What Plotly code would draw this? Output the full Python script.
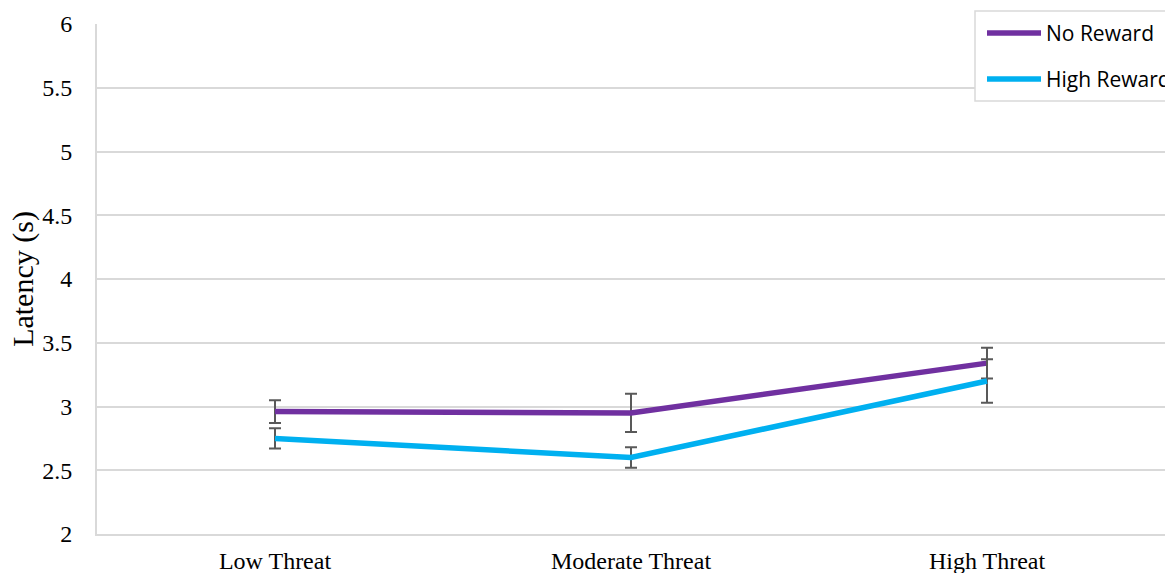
import plotly.graph_objects as go

categories = ["Low Threat", "Moderate Threat", "High Threat"]
no_reward = [2.96, 2.95, 3.34]
no_reward_err = [0.09, 0.15, 0.12]
high_reward = [2.75, 2.60, 3.20]
high_reward_err = [0.08, 0.08, 0.17]
series_names = ["No Reward", "High Reward"]
series_colors = ["#7030A0", "#00B0F0"]
y_ticks = [2, 2.5, 3, 3.5, 4, 4.5, 5, 5.5, 6]

W, H = 1165, 573
L, R, T, B = 97, 0, 24, 39
PW, PH = W - L - R, H - T - B

def px(x):
    return (x - L) / PW

def py(y):
    return 1 - (y - T) / PH

fig = go.Figure()
for name, vals, errs, col in [
    (series_names[0], no_reward, no_reward_err, series_colors[0]),
    (series_names[1], high_reward, high_reward_err, series_colors[1]),
]:
    fig.add_trace(go.Scatter(
        x=list(range(len(categories))), y=vals, mode="lines", name=name,
        line=dict(color=col, width=5.5),
        error_y=dict(type="data", array=errs, visible=True, color="#595959",
                     thickness=2, width=6),
        showlegend=False,
    ))

fig.update_layout(
    width=W, height=H,
    margin=dict(l=L, r=R, t=T, b=B, pad=0),
    paper_bgcolor="white", plot_bgcolor="white",
    font=dict(family="Liberation Serif", size=24, color="#000000"),
    xaxis=dict(
        range=[-0.5, 2.5], tickmode="array",
        tickvals=list(range(len(categories))), ticktext=categories,
        showgrid=False, zeroline=False, showline=True, linecolor="#d9d9d9",
        linewidth=2, ticks="", ticklabelstandoff=4, automargin=False,
        tickfont=dict(family="Liberation Serif", size=24),
    ),
    yaxis=dict(
        range=[2, 6], tickmode="array", tickvals=y_ticks,
        ticktext=[f"{v:g}" for v in y_ticks],
        showgrid=True, gridcolor="#d9d9d9", gridwidth=2,
        zeroline=False, showline=True, linecolor="#d9d9d9", linewidth=2,
        ticks="", ticklabelstandoff=18, automargin=False,
        title=dict(text="Latency (s)", standoff=0,
                   font=dict(family="Liberation Serif", size=30)),
        tickfont=dict(family="Liberation Serif", size=24),
    ),
)

# custom legend (box partially outside the figure, like the reference)
fig.add_shape(type="rect", xref="paper", yref="paper",
              x0=px(975), x1=px(1200), y0=py(101), y1=py(11),
              fillcolor="white", line=dict(color="#d9d9d9", width=1.5),
              layer="above")
for i, (name, col) in enumerate(zip(series_names, series_colors)):
    yy = 33 + i * 46
    fig.add_shape(type="line", xref="paper", yref="paper",
                  x0=px(987), x1=px(1041), y0=py(yy), y1=py(yy),
                  line=dict(color=col, width=5.5), layer="above")
    fig.add_annotation(xref="paper", yref="paper", x=px(1044), y=py(yy),
                       text=name, showarrow=False, xanchor="left",
                       yanchor="middle",
                       font=dict(family="Open Sans", size=21, color="#000000"))

fig.write_html("out.html",
               config={"displayModeBar": False},
               post_script="document.body.style.margin='0';"
                           "document.body.style.overflow='hidden';")
